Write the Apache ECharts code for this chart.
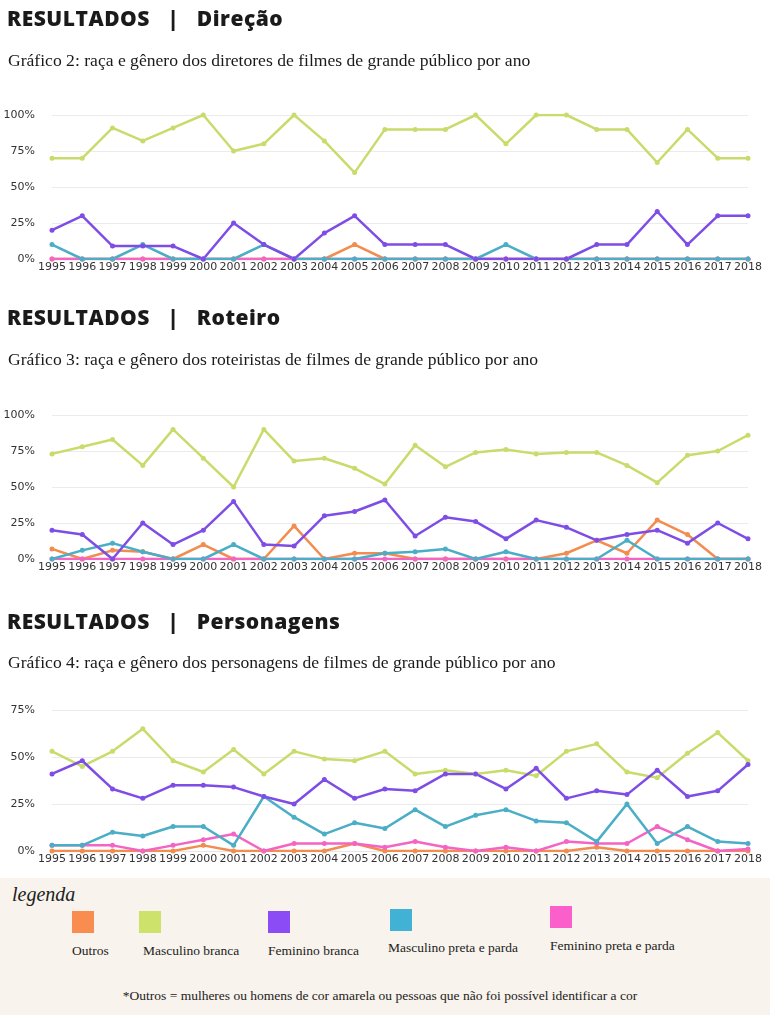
<!DOCTYPE html>
<html><head><meta charset="utf-8">
<script src="https://cdn.jsdelivr.net/npm/echarts@6/dist/echarts.min.js"></script>
<style>
html,body{margin:0;padding:0;background:#fff;width:774px;height:1015px;overflow:hidden;}
#chart{position:absolute;left:0;top:0;width:774px;height:1015px;}
.h{position:absolute;left:7px;font-family:'Open Sans',Lato,sans-serif;font-weight:800;font-size:21px;letter-spacing:0.5px;color:#1a1a1a;white-space:pre;}
.s{position:absolute;left:8px;font-family:'Liberation Serif',serif;font-size:17.6px;color:#1a1a1a;white-space:pre;}
#leg{position:absolute;left:0;top:878px;width:770px;height:137px;background:#f8f3ec;}
.sw{position:absolute;width:22px;height:22px;}
.lt{position:absolute;font-family:'Liberation Serif',serif;font-size:13.5px;color:#222;white-space:pre;}
</style></head><body>
<div id="leg"></div>
<div id="chart"></div>
<div class="h" style="top:4px">RESULTADOS   |   Direção</div>
<div class="s" style="top:50px">Gráfico 2: raça e gênero dos diretores de filmes de grande público por ano</div>
<div class="h" style="top:303px">RESULTADOS   |   Roteiro</div>
<div class="s" style="top:349px">Gráfico 3: raça e gênero dos roteiristas de filmes de grande público por ano</div>
<div class="h" style="top:607px">RESULTADOS   |   Personagens</div>
<div class="s" style="top:652px">Gráfico 4: raça e gênero dos personagens de filmes de grande público por ano</div>
<script>
const years = ['1995','1996','1997','1998','1999','2000','2001','2002','2003','2004','2005','2006','2007','2008','2009','2010','2011','2012','2013','2014','2015','2016','2017','2018'];
const seriesNames = ['Outros','Masculino branca','Feminino branca','Masculino preta e parda','Feminino preta e parda'];
const seriesColors = ['#f28c4f','#c8dc6c','#7e4de6','#4aaec6','#f464c4'];
const swatchColors = ['#f98d4f','#cde26a','#8b4cf5','#41b2d3','#fb5fca'];

// Direção
const dirOutros = [0,0,0,0,0,0,0,0,0,0,10,0,0,0,0,0,0,0,0,0,0,0,0,0];
const dirMascBranca = [70,70,91,82,91,100,75,80,100,82,60,90,90,90,100,80,100,100,90,90,67,90,70,70];
const dirFemBranca = [20,30,9,9,9,0,25,10,0,18,30,10,10,10,0,0,0,0,10,10,33,10,30,30];
const dirMascPreta = [10,0,0,10,0,0,0,10,0,0,0,0,0,0,0,10,0,0,0,0,0,0,0,0];
const dirFemPreta = [0,0,0,0,0,0,0,0,0,0,0,0,0,0,0,0,0,0,0,0,0,0,0,0];

// Roteiro
const rotOutros = [7,0,6,5,0,10,0,0,23,0,4,4,0,0,0,0,0,4,13,4,27,17,0,0];
const rotMascBranca = [73,78,83,65,90,70,50,90,68,70,63,52,79,64,74,76,73,74,74,65,53,72,75,86];
const rotFemBranca = [20,17,0,25,10,20,40,10,9,30,33,41,16,29,26,14,27,22,13,17,20,11,25,14];
const rotMascPreta = [0,6,11,5,0,0,10,0,0,0,0,4,5,7,0,5,0,0,0,13,0,0,0,0];
const rotFemPreta = [0,0,0,0,0,0,0,0,0,0,0,0,0,0,0,0,0,0,0,0,0,0,0,0];

// Personagens
const perOutros = [0,0,0,0,0,3,0,0,0,0,4,0,0,0,0,0,0,0,2,0,0,0,0,0];
const perMascBranca = [53,45,53,65,48,42,54,41,53,49,48,53,41,43,41,43,40,53,57,42,39,52,63,48];
const perFemBranca = [41,48,33,28,35,35,34,29,25,38,28,33,32,41,41,33,44,28,32,30,43,29,32,46];
const perMascPreta = [3,3,10,8,13,13,3,29,18,9,15,12,22,13,19,22,16,15,5,25,4,13,5,4];
const perFemPreta = [3,3,3,0,3,6,9,0,4,4,4,2,5,2,0,2,0,5,4,4,13,6,0,1];

const dirTicks = [0,25,50,75,100];
const perTicks = [0,25,50,75];

const groups = [
  [dirOutros,dirMascBranca,dirFemBranca,dirMascPreta,dirFemPreta],
  [rotOutros,rotMascBranca,rotFemBranca,rotMascPreta,rotFemPreta],
  [perOutros,perMascBranca,perFemBranca,perMascPreta,perFemPreta]
];
const yMax = [dirTicks[dirTicks.length-1], dirTicks[dirTicks.length-1], perTicks[perTicks.length-1]];
const grids = [
  {left:52,right:26,top:115,height:144},
  {left:52,right:26,top:415,height:144},
  {left:52,right:26,top:710,height:141}
];
// drawing order: Outros, Fem preta, Masc preta, Masc branca, Fem branca (last on top)
const drawOrder = [0,4,3,1,2];

const chart = echarts.init(document.getElementById('chart'));
const series = [];
groups.forEach((g,gi)=>{
  drawOrder.forEach(si=>{
    series.push({
      name: seriesNames[si], type:'line', xAxisIndex:gi, yAxisIndex:gi,
      data: g[si], symbol:'circle', symbolSize:5, showSymbol:true,
      lineStyle:{width:2.5,color:seriesColors[si]}, itemStyle:{color:seriesColors[si]},
      animation:false
    });
  });
});
chart.setOption({
  animation:false,
  grid: grids,
  xAxis: grids.map((g,i)=>({
    type:'category', gridIndex:i, data:years, boundaryGap:false,
    axisLine:{show:true,lineStyle:{color:'#e6e6e6'}}, axisTick:{show:false},
    axisLabel:{color:'#333',fontSize:11,margin:3,interval:0,fontFamily:'DejaVu Sans, sans-serif'}
  })),
  yAxis: grids.map((g,i)=>({
    type:'value', gridIndex:i, min:0, max:yMax[i], interval:25,
    axisLine:{show:false}, axisTick:{show:false},
    splitLine:{lineStyle:{color:'#ebebeb'}},
    axisLabel:{color:'#333',fontSize:11,margin:17,formatter:'{value}%',fontFamily:'DejaVu Sans, sans-serif'}
  })),
  series: series
});

// legend (HTML)
const leg = document.getElementById('leg');
const swPos = [[72,33],[139,33],[268,33],[390,31],[550,28]];
const lbPos = [[72,65],[143,65],[268,65],[388,62],[550,60]];
let html = '<div class="lt" style="left:12px;top:5px;font-size:20px;font-style:italic;">legenda</div>';
seriesNames.forEach((n,i)=>{
  html += '<div class="sw" style="left:'+swPos[i][0]+'px;top:'+swPos[i][1]+'px;background:'+swatchColors[i]+'"></div>';
  html += '<div class="lt" style="left:'+lbPos[i][0]+'px;top:'+lbPos[i][1]+'px;">'+n+'</div>';
});
html += '<div class="lt" style="left:0;width:760px;text-align:center;top:110px;font-size:13.5px;">*Outros = mulheres ou homens de cor amarela ou pessoas que não foi possível identificar a cor</div>';
leg.innerHTML = html;
</script>
</body></html>
